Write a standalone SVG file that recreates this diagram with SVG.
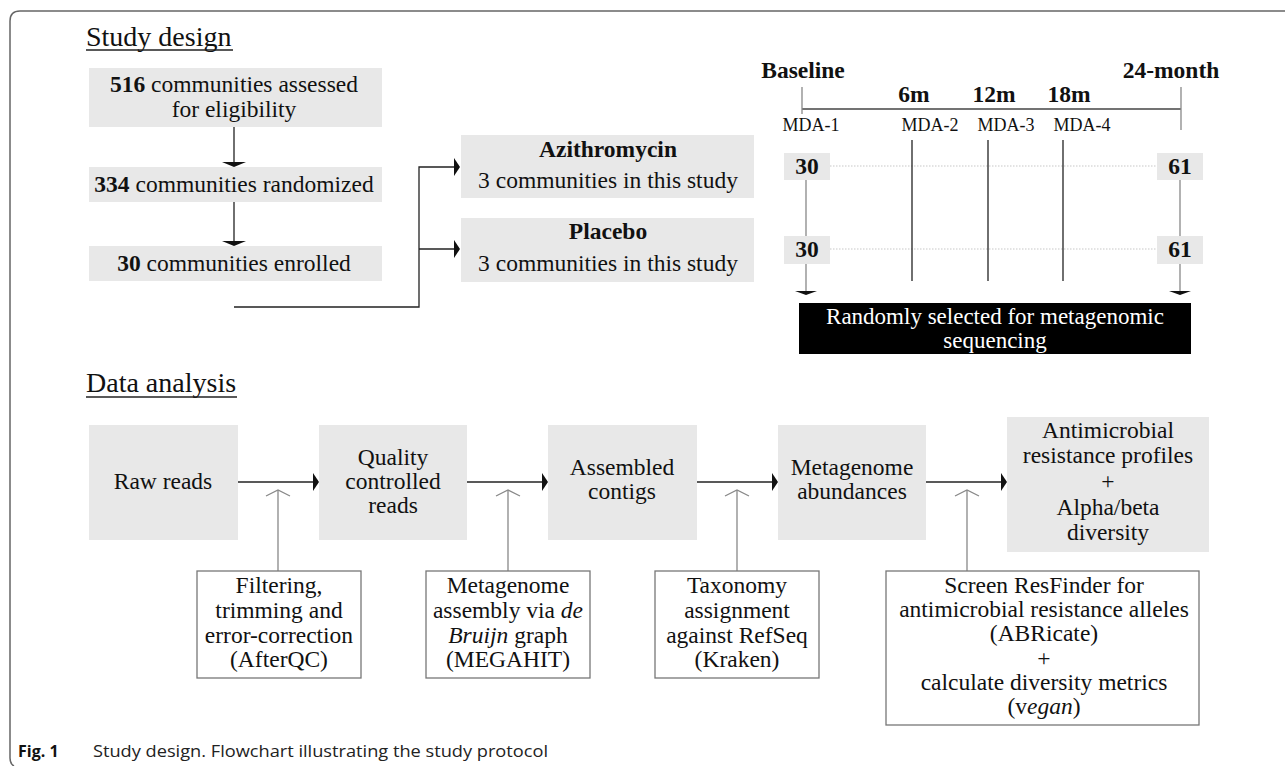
<svg xmlns="http://www.w3.org/2000/svg" width="1285" height="766" viewBox="0 0 1285 766">
<style>
.t{font-family:"Liberation Serif","Times New Roman",serif;font-size:23.5px;fill:#111;text-anchor:middle}
.b{font-weight:bold}
.i{font-style:italic}
.h{font-family:"Liberation Serif","Times New Roman",serif;font-size:28px;fill:#111}
.s{font-family:"Liberation Serif","Times New Roman",serif;font-size:18px;fill:#111;text-anchor:middle}
.g{fill:#e8e8e8}
.w{fill:#fff;stroke:#777;stroke-width:1.3}
.ln{stroke:#222;stroke-width:1.3;fill:none}
.gl{stroke:#888;stroke-width:1.3;fill:none}
.dt{stroke:#c8c8c8;stroke-width:1.2;stroke-dasharray:1.5 1.5;fill:none}
.ah{fill:#111}
</style>
<path d="M1285,11 H20 Q10,11 10,21 V758 Q10,764 14,766" fill="none" stroke="#666" stroke-width="1.5"/>
<g id="titles">
<text class="h" x="86" y="46">Study design</text>
<line x1="86" y1="50" x2="233" y2="50" stroke="#222" stroke-width="1.3"/>
<text class="h" x="86" y="392">Data analysis</text>
<line x1="86" y1="397" x2="237" y2="397" stroke="#222" stroke-width="1.3"/>
</g>
<g id="connectors">
<line class="ln" x1="234" y1="127" x2="234" y2="163"/>
<polygon class="ah" points="222,162 246,162 234,167"/>
<line class="ln" x1="234" y1="202" x2="234" y2="242"/>
<polygon class="ah" points="222,241 246,241 234,246"/>
<polyline class="ln" points="234,307 419,307 419,167 455,167"/>
<line class="ln" x1="419" y1="249" x2="455" y2="249"/>
<polygon class="ah" points="454,158 454,176 460,167"/>
<polygon class="ah" points="454,240 454,258 460,249"/>
<line class="ln" x1="238" y1="482" x2="314" y2="482"/>
<polygon class="ah" points="313,473 313,491 319,482"/>
<line class="ln" x1="467" y1="482" x2="543" y2="482"/>
<polygon class="ah" points="542,473 542,491 548,482"/>
<line class="ln" x1="697" y1="482" x2="773" y2="482"/>
<polygon class="ah" points="772,473 772,491 778,482"/>
<line class="ln" x1="926" y1="482" x2="1002" y2="482"/>
<polygon class="ah" points="1001,473 1001,491 1007,482"/>
<line class="gl" x1="278" y1="571" x2="278" y2="490"/>
<polyline class="gl" points="266,496 278,490 290,496"/>
<line class="gl" x1="508" y1="571" x2="508" y2="490"/>
<polyline class="gl" points="496,496 508,490 520,496"/>
<line class="gl" x1="737" y1="571" x2="737" y2="490"/>
<polyline class="gl" points="725,496 737,490 749,496"/>
<line class="gl" x1="967" y1="571" x2="967" y2="490"/>
<polyline class="gl" points="955,496 967,490 979,496"/>
</g>
<g id="timeline">
<text class="t b" x="803" y="78">Baseline</text>
<text class="t b" x="1171" y="78">24-month</text>
<text class="t b" x="914" y="102">6m</text>
<text class="t b" x="994" y="102">12m</text>
<text class="t b" x="1069" y="102">18m</text>
<line x1="802" y1="109" x2="1181" y2="109" stroke="#444" stroke-width="1.5"/>
<line class="gl" x1="802" y1="87" x2="802" y2="114"/>
<line class="gl" x1="1181" y1="87" x2="1181" y2="130"/>
<text class="s" x="811" y="131">MDA-1</text>
<text class="s" x="930" y="131">MDA-2</text>
<text class="s" x="1006" y="131">MDA-3</text>
<text class="s" x="1082" y="131">MDA-4</text>
<line class="dt" x1="830" y1="166" x2="1157" y2="166"/>
<line class="dt" x1="830" y1="249" x2="1157" y2="249"/>
<line class="ln" x1="912" y1="140" x2="912" y2="281"/>
<line class="ln" x1="988" y1="140" x2="988" y2="281"/>
<line class="ln" x1="1063" y1="140" x2="1063" y2="281"/>
<line class="gl" x1="806" y1="180" x2="806" y2="236"/>
<line class="gl" x1="1180" y1="180" x2="1180" y2="236"/>
<line class="gl" x1="806" y1="264" x2="806" y2="292"/>
<line class="gl" x1="1180" y1="264" x2="1180" y2="292"/>
<polygon class="ah" points="795,291 817,291 806,295"/>
<polygon class="ah" points="1169,291 1191,291 1180,295"/>
</g>
<g id="n516"><rect class="g" x="89" y="68" width="293" height="59"/>
<text class="t" x="234" y="92"><tspan class="b">516</tspan> communities assessed</text>
<text class="t" x="234" y="117">for eligibility</text></g>
<g id="n334"><rect class="g" x="89" y="167" width="293" height="35"/>
<text class="t" x="234" y="192"><tspan class="b">334</tspan> communities randomized</text></g>
<g id="n30"><rect class="g" x="89" y="246" width="293" height="35"/>
<text class="t" x="234" y="271"><tspan class="b">30</tspan> communities enrolled</text></g>
<g id="azithro"><rect class="g" x="461" y="135" width="293" height="63"/>
<text class="t b" x="608" y="157">Azithromycin</text>
<text class="t" x="608" y="188">3 communities in this study</text></g>
<g id="placebo"><rect class="g" x="461" y="218" width="293" height="64"/>
<text class="t b" x="608" y="239">Placebo</text>
<text class="t" x="608" y="271">3 communities in this study</text></g>
<g id="b30a"><rect class="g" x="784" y="153" width="46" height="27"/><text class="t b" x="807" y="174">30</text></g>
<g id="b61a"><rect class="g" x="1157" y="153" width="46" height="27"/><text class="t b" x="1180" y="174">61</text></g>
<g id="b30b"><rect class="g" x="784" y="236" width="46" height="28"/><text class="t b" x="807" y="257">30</text></g>
<g id="b61b"><rect class="g" x="1157" y="236" width="46" height="28"/><text class="t b" x="1180" y="257">61</text></g>
<g id="random"><rect x="799" y="303" width="392" height="51" fill="#000"/>
<text class="t" x="995" y="324" style="fill:#fff;font-size:23px">Randomly selected for metagenomic</text>
<text class="t" x="995" y="348" style="fill:#fff;font-size:23px">sequencing</text></g>
<g id="raw"><rect class="g" x="89" y="425" width="149" height="115"/>
<text class="t" x="163" y="489">Raw reads</text></g>
<g id="qc"><rect class="g" x="319" y="425" width="148" height="115"/>
<text class="t" x="393" y="465">Quality</text><text class="t" x="393" y="489">controlled</text><text class="t" x="393" y="513">reads</text></g>
<g id="asm"><rect class="g" x="548" y="425" width="149" height="115"/>
<text class="t" x="622" y="475">Assembled</text><text class="t" x="622" y="499">contigs</text></g>
<g id="meta"><rect class="g" x="778" y="425" width="148" height="115"/>
<text class="t" x="852" y="475">Metagenome</text><text class="t" x="852" y="499">abundances</text></g>
<g id="amr"><rect class="g" x="1007" y="417" width="202" height="135"/>
<text class="t" x="1108" y="438">Antimicrobial</text><text class="t" x="1108" y="463">resistance profiles</text><text class="t" x="1108" y="489">+</text><text class="t" x="1108" y="515">Alpha/beta</text><text class="t" x="1108" y="540">diversity</text></g>
<g id="filt"><rect class="w" x="197" y="571" width="164" height="107"/>
<text class="t" x="279" y="593">Filtering,</text><text class="t" x="279" y="618">trimming and</text><text class="t" x="279" y="643">error-correction</text><text class="t" x="279" y="667">(AfterQC)</text></g>
<g id="megahit"><rect class="w" x="426" y="571" width="164" height="107"/>
<text class="t" x="508" y="593">Metagenome</text><text class="t" x="508" y="618">assembly via <tspan class="i">de</tspan></text><text class="t" x="508" y="643"><tspan class="i">Bruijn</tspan> graph</text><text class="t" x="508" y="667">(MEGAHIT)</text></g>
<g id="kraken"><rect class="w" x="655" y="571" width="164" height="107"/>
<text class="t" x="737" y="593">Taxonomy</text><text class="t" x="737" y="618">assignment</text><text class="t" x="737" y="643">against RefSeq</text><text class="t" x="737" y="667">(Kraken)</text></g>
<g id="abricate"><rect class="w" x="886" y="571" width="313" height="154"/>
<text class="t" x="1044" y="593">Screen ResFinder for</text><text class="t" x="1044" y="617">antimicrobial resistance alleles</text><text class="t" x="1044" y="641">(ABRicate)</text><text class="t" x="1044" y="666">+</text><text class="t" x="1044" y="690">calculate diversity metrics</text><text class="t" x="1044" y="714">(v<tspan class="i">egan</tspan>)</text></g>
<g id="caption">
<text x="18" y="757" font-family="'Open Sans','Noto Sans',sans-serif" font-size="16" font-weight="bold" fill="#111">Fig. 1</text>
<text x="93" y="757" font-family="'Open Sans','Noto Sans',sans-serif" font-size="16" fill="#222" textLength="455" lengthAdjust="spacingAndGlyphs">Study design. Flowchart illustrating the study protocol</text>
</g>
</svg>
